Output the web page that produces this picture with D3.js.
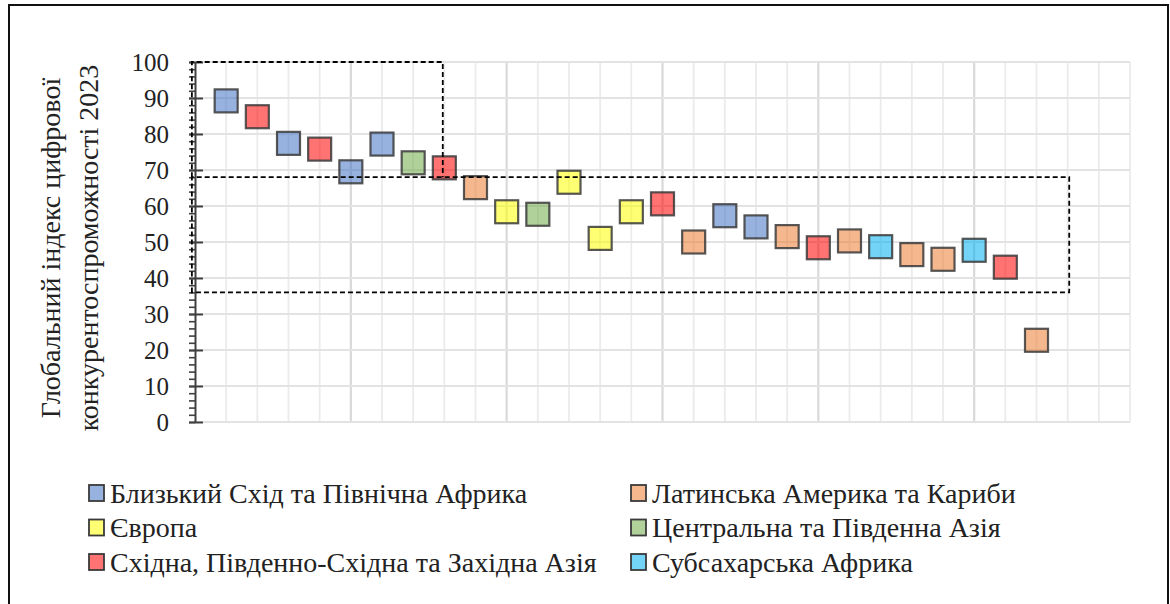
<!DOCTYPE html>
<html>
<head>
<meta charset="utf-8">
<script src="https://cdn.jsdelivr.net/npm/d3@7"></script>
<style>
  body { margin: 0; background: #fff; }
  svg text { font-family: "Liberation Serif", Tinos, "Times New Roman", "DejaVu Serif", serif; fill: #222; }
</style>
</head>
<body>
<svg id="chart" width="1170" height="604"></svg>
<script>
// regions (legend order)
const regions = [
  "Близький Схід та Північна Африка",
  "Латинська Америка та Кариби",
  "Європа",
  "Центральна та Південна Азія",
  "Східна, Південно-Східна та Західна Азія",
  "Субсахарська Африка"
];
const regionColors = ["#4472c4", "#ed7d31", "#ffff00", "#70ad47", "#ff0000", "#00b0f0"];

// region index of each point, left to right
const pointRegion = [0, 4, 0, 4, 0, 0, 3, 4, 1, 2, 3, 2, 2, 2, 4, 1, 0, 0, 1, 4, 1, 5, 1, 1, 5, 4, 1];
// index values
const scores = [89.2, 84.8, 77.4, 75.8, 69.5, 77.2, 72.0, 70.6, 65.1, 58.4, 57.7, 66.6, 51.0, 58.4,
                60.6, 50.0, 57.3, 54.2, 51.5, 48.4, 50.3, 48.7, 46.5, 45.2, 47.7, 43.0, 22.7];

const yTicks = [0, 10, 20, 30, 40, 50, 60, 70, 80, 90, 100];
const yTitle = ["Глобальний індекс цифрової", "конкурентоспроможності 2023"];

// dashed highlight boxes, in data units
const boxes = [
  { x0: -0.1, x1: 7.95, y0: 68, y1: 100 },
  { x0: -0.1, x1: 28.05, y0: 36, y1: 68 }
];

const svg = d3.select("#chart");

// outer frame
svg.append("rect")
    .attr("x", 9).attr("y", 5)
    .attr("width", 1159).attr("height", 610)
    .attr("fill", "none")
    .attr("stroke", "#111")
    .attr("stroke-width", 2);

const x = d3.scaleLinear().domain([0, 30]).range([195, 1130]);
const y = d3.scaleLinear().domain([0, 100]).range([422, 62]);

// grid
const grid = svg.append("g");
grid.selectAll("line.v")
  .data(d3.range(1, 31))
  .join("line")
    .attr("x1", d => x(d)).attr("x2", d => x(d))
    .attr("y1", y(0)).attr("y2", y(100))
    .attr("stroke", d => d % 5 === 0 && d < 30 ? "#d9d9d9" : "#ebebeb")
    .attr("stroke-width", d => d % 5 === 0 && d < 30 ? 2.2 : 1.8);
grid.selectAll("line.h")
  .data(yTicks)
  .join("line")
    .attr("x1", x(0)).attr("x2", x(30))
    .attr("y1", d => y(d)).attr("y2", d => y(d))
    .attr("stroke", "#e3e3e3")
    .attr("stroke-width", 2);

// y axis with minor ticks
const axisG = svg.append("g").attr("transform", `translate(${x(0)},0)`);
axisG.call(d3.axisLeft(y).tickValues(d3.range(0, 101, 2)).tickSize(6).tickFormat(""))
  .call(g => g.select(".domain").remove())
  .selectAll("line").attr("stroke", "#404040").attr("stroke-width", 1.6);
axisG.append("g")
  .call(d3.axisLeft(y).tickValues(yTicks).tickSizeInner(6).tickSizeOuter(0).tickPadding(20))
  .call(g => g.attr("font-family", null))
  .call(g => g.select(".domain").attr("stroke", "#404040").attr("stroke-width", 2))
  .call(g => g.selectAll("line").attr("stroke", "#404040").attr("stroke-width", 2).attr("x2", 8).attr("x1", -6))
  .call(g => g.selectAll("text")
      .attr("font-size", 25).attr("fill", "#262626"));

// axis title
svg.append("g")
    .attr("transform", "translate(50,248) rotate(-90)")
  .selectAll("text")
  .data(yTitle)
  .join("text")
    .attr("x", 0)
    .attr("y", (d, i) => i * 38)
    .attr("dy", "0.35em")
    .attr("text-anchor", "middle")
    .attr("font-size", 28)
    .text(d => d);

// points
const size = 23;
svg.append("g")
  .selectAll("rect")
  .data(scores)
  .join("rect")
    .attr("x", (d, i) => x(i + 1) - size / 2)
    .attr("y", d => y(d) - size / 2)
    .attr("width", size).attr("height", size)
    .attr("fill", (d, i) => regionColors[pointRegion[i]])
    .attr("fill-opacity", 0.55)
    .attr("stroke", "#3a3a3a")
    .attr("stroke-opacity", 0.85)
    .attr("stroke-width", 2.2);

// dashed boxes: the upper one is left open at the bottom, sharing the lower one's top edge
svg.append("g")
  .selectAll("path")
  .data(boxes)
  .join("path")
    .attr("d", (d, i) => {
      const p = d3.path();
      p.moveTo(x(d.x0), y(d.y0));
      p.lineTo(x(d.x0), y(d.y1));
      p.lineTo(x(d.x1), y(d.y1));
      p.lineTo(x(d.x1), y(d.y0));
      if (i > 0) p.closePath();
      return p.toString();
    })
    .attr("fill", "none")
    .attr("stroke", "#000")
    .attr("stroke-width", 1.8)
    .attr("stroke-dasharray", "5,3");

// legend: two columns of three
const legendOrder = [0, 2, 4, 1, 3, 5];
const legend = svg.append("g")
  .selectAll("g")
  .data(legendOrder)
  .join("g")
    .attr("transform", (d, i) => `translate(${i < 3 ? 89 : 631},${493 + (i % 3) * 34.5})`);
legend.append("rect")
    .attr("x", 0).attr("y", -8)
    .attr("width", 15).attr("height", 16)
    .attr("fill", d => regionColors[d])
    .attr("fill-opacity", 0.55)
    .attr("stroke", "#3a3a3a")
    .attr("stroke-width", 1.8);
legend.append("text")
    .attr("x", 21)
    .attr("dy", "0.35em")
    .attr("font-size", 28)
    .text(d => regions[d]);
</script>
</body>
</html>
